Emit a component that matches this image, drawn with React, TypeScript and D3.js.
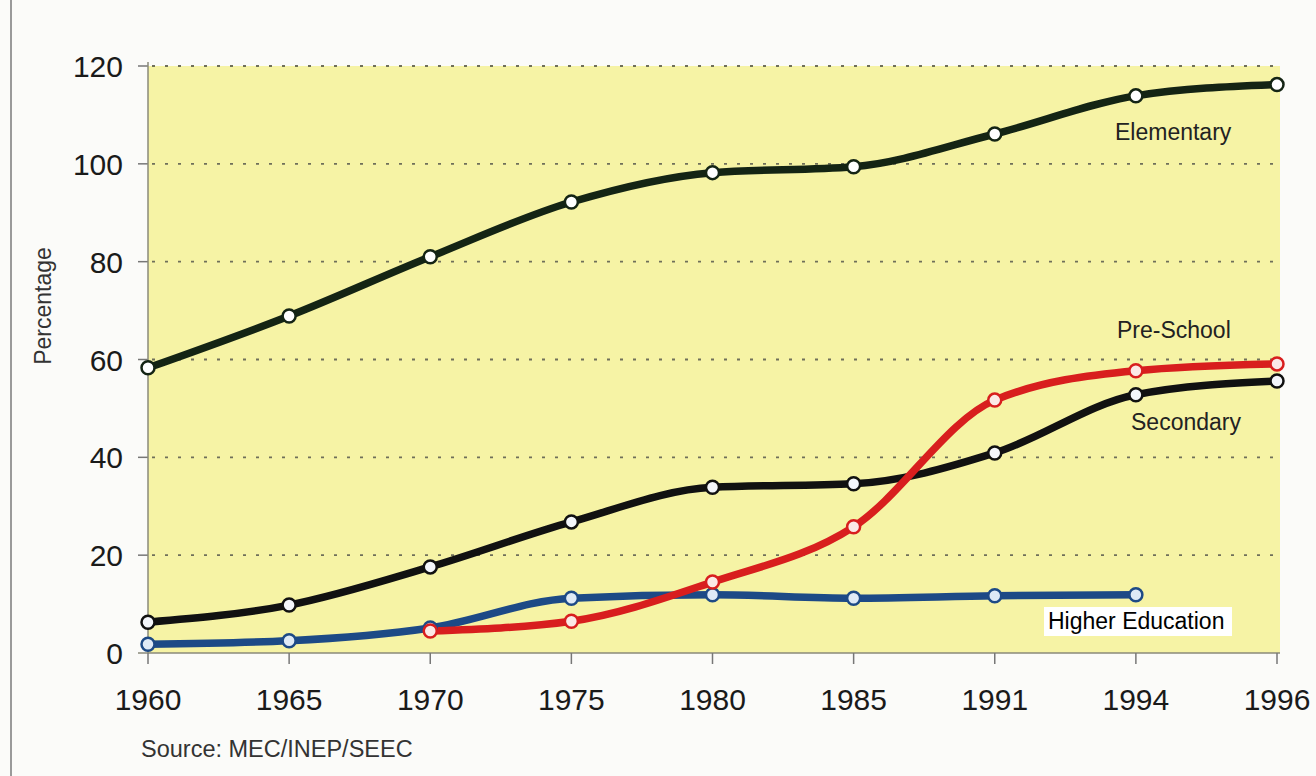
import React from 'react';
import * as d3 from 'd3';

// percentage enrolled in public school by level, Brazil
const years = ['1960', '1965', '1970', '1975', '1980', '1985', '1991', '1994', '1996'];
const elementary = [58.3, 68.9, 81, 92.2, 98.2, 99.4, 106.1, 113.9, 116.2];
const secondary = [6.3, 9.8, 17.6, 26.8, 33.9, 34.6, 40.9, 52.8, 55.6];
const preSchool = [null, null, 4.5, 6.5, 14.5, 25.8, 51.7, 57.7, 59.1];
const higherEd = [1.8, 2.5, 5.1, 11.2, 11.9, 11.2, 11.7, 11.9, null];
const yTicks = [0, 20, 40, 60, 80, 100, 120];

const W = 1316, H = 776;
const x = d3.scalePoint<string>().domain(years).range([148, 1277]);
const y = d3.scaleLinear().domain([0, 120]).range([653, 66]);

const series = [
  { name: 'Elementary', values: elementary, color: '#142414', fill: '#ffffff' },
  { name: 'Secondary', values: secondary, color: '#111111', fill: '#f4f6fb' },
  { name: 'Higher Education', values: higherEd, color: '#1d4a86', fill: '#dfeaf6' },
  { name: 'Pre-School', values: preSchool, color: '#d81e1e', fill: '#fbe9e6' },
];

const font = 'Liberation Sans, Arial, Helvetica, sans-serif';

export default function App() {
  const line = d3.line<number | null>()
    .defined(d => d != null)
    .x((_, i) => x(years[i]) as number)
    .y(d => y(d as number))
    .curve(d3.curveMonotoneX);

  return (
    <svg width={W} height={H} style={{ position: 'absolute', left: 0, top: 0, background: '#fbfbf9' }}
      fontFamily={font}>
      <line x1={11} x2={11} y1={0} y2={H} stroke="#9a9a9a" strokeWidth={2} />
      <rect x={148} y={66} width={1132} height={587} fill="#f6f3a5" />

      {/* grid */}
      {yTicks.filter(t => t > 0).map(t => (
        <g key={t}>
          <line x1={152} x2={1275} y1={y(t)} y2={y(t)} stroke="#6f6f5a" strokeWidth={1.8}
            strokeDasharray="3 10" />
          <line x1={138} x2={148} y1={y(t)} y2={y(t)} stroke="#777" strokeWidth={1.5} />
        </g>
      ))}
      <line x1={148} x2={148} y1={62} y2={653} stroke="#8a8a7a" strokeWidth={1.5} />
      <line x1={138} x2={1280} y1={653} y2={653} stroke="#8a8a7a" strokeWidth={1.5} />
      {years.map(yr => (
        <line key={yr} x1={x(yr)} x2={x(yr)} y1={653} y2={664} stroke="#777" strokeWidth={1.5} />
      ))}

      {/* axis labels */}
      {yTicks.map(t => (
        <text key={t} x={123} y={y(t) + 11} textAnchor="end" fontSize={30} fill="#1a1a1a">{t}</text>
      ))}
      {years.map(yr => (
        <text key={yr} x={x(yr)} y={710} textAnchor="middle" fontSize={30} fill="#1a1a1a">{yr}</text>
      ))}
      <text transform="translate(51,306) rotate(-90)" textAnchor="middle" fontSize={23} fill="#333">Percentage</text>
      <text x={141} y={757} fontSize={23.5} fill="#333">Source: MEC/INEP/SEEC</text>

      {/* lines */}
      {series.map(s => (
        <path key={s.name} d={line(s.values) || ''} fill="none" stroke={s.color} strokeWidth={7.5}
          strokeLinecap="round" />
      ))}
      {series.map(s => (
        <g key={s.name + 'pts'}>
          {s.values.map((v, i) => v == null ? null : (
            <circle key={i} cx={x(years[i])} cy={y(v)} r={6.5} fill={s.fill} stroke={s.color} strokeWidth={2.5} />
          ))}
        </g>
      ))}

      {/* series labels */}
      <text x={1115} y={140} fontSize={23} fill="#222">Elementary</text>
      <text x={1117} y={338} fontSize={23} fill="#222">Pre-School</text>
      <text x={1131} y={430} fontSize={23} fill="#222">Secondary</text>
      <rect x={1044} y={607} width={188} height={29} fill="#ffffff" />
      <text x={1048} y={629} fontSize={23} fill="#000">Higher Education</text>
    </svg>
  );
}
